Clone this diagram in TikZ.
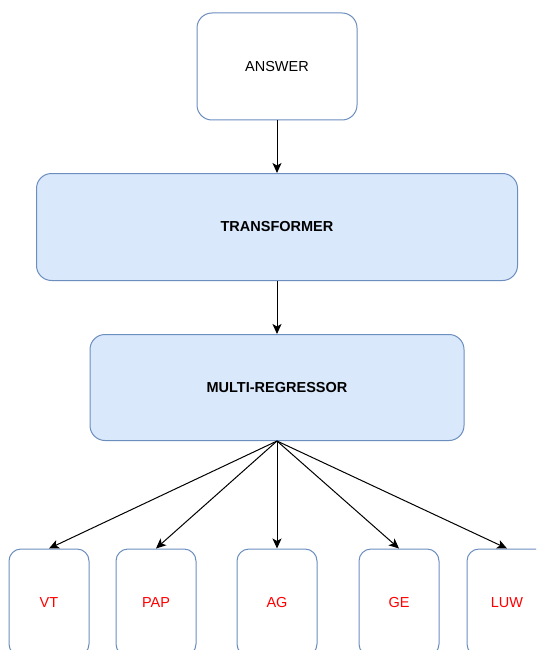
\documentclass[tikz,border=0pt]{standalone}
\usepackage{fontspec}
\setmainfont{Liberation Sans}
\usepackage{tikz}
\usetikzlibrary{positioning,arrows.meta}
\definecolor{edgeblue}{HTML}{6C8EBF}
\definecolor{fillblue}{HTML}{DAE8FC}
\definecolor{outred}{HTML}{FF0000}

\begin{document}
\begin{tikzpicture}[x=1pt,y=1pt,>={Stealth[length=10pt,width=9pt,inset=2.5pt]},line width=1pt,
    box/.style={draw=edgeblue,rounded corners=15pt,align=center,inner sep=0pt,font=\fontsize{14.5}{17}\selectfont},
    outbox/.style={box,rounded corners=12pt,fill=white,text=outred,minimum width=80pt,minimum height=107pt}]
    \clip (0,0) rectangle (536,-650);
    \node[box,fill=white,minimum width=160pt,minimum height=107pt] (ans) at (277,-66.5) {ANSWER};
    \node[box,fill=fillblue,minimum width=481pt,minimum height=107pt,below=52.5pt of ans] (tf) {\textbf{TRANSFORMER}};
    \node[box,fill=fillblue,minimum width=374pt,minimum height=106pt,below=53pt of tf] (mr) {\textbf{MULTI-REGRESSOR}};
    \node[outbox,below=107.5pt of mr] (ag) {AG};
    \node[outbox,left=40pt of ag] (pap) {PAP};
    \node[outbox,left=26pt of pap] (vt) {VT};
    \node[outbox,right=41pt of ag] (ge) {GE};
    \node[outbox,right=27pt of ge] (luw) {LUW};
    \draw[->] (ans)--(tf); \draw[->] (tf)--(mr);
    \draw[->] (mr.south)--(vt.north); \draw[->] (mr.south)--(pap.north); \draw[->] (mr.south)--(ag.north);
    \draw[->] (mr.south)--(ge.north); \draw[->] (mr.south)--(luw.north);
  \end{tikzpicture}
\end{document}
